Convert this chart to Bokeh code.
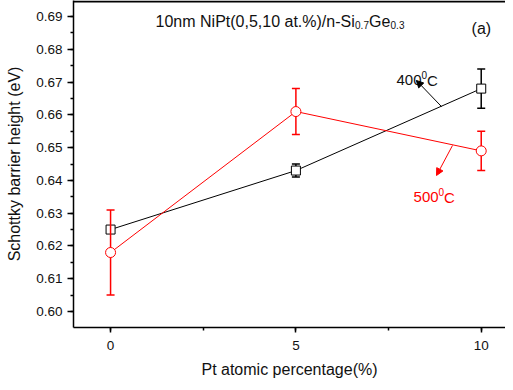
from bokeh.plotting import figure
from bokeh.models import (Range1d, SingleIntervalTicker, NumeralTickFormatter, Label,
                          Arrow, NormalHead, Span)
from bokeh.embed import file_html
from bokeh.resources import INLINE

# ---- data ----
pt = [0, 5, 10]
sbh_400 = [0.625, 0.643, 0.668]
err_400 = [0.001, 0.002, 0.006]
sbh_500 = [0.618, 0.661, 0.649]
err_500 = [0.013, 0.007, 0.006]

FONT = "Liberation Sans"
RED = "#ff0000"
Y0, Y1 = 0.59512, 0.69488

p = figure(width=505, height=382, output_backend="svg", toolbar_location=None,
           x_range=Range1d(-1.0, 10.655), y_range=Range1d(Y0, Y1),
           min_border_left=73, min_border_right=0, min_border_top=0, min_border_bottom=55)
p.background_fill_color = "white"
p.border_fill_color = "white"
p.outline_line_color = None
p.grid.visible = False

p.add_layout(Span(location=Y1 - 0.0003, dimension="width", line_color="black", line_width=2))

# axes
p.xaxis.ticker = SingleIntervalTicker(interval=5, num_minor_ticks=2)
p.yaxis.ticker = SingleIntervalTicker(interval=0.01, num_minor_ticks=2)
p.yaxis.formatter = NumeralTickFormatter(format="0.00")
for ax in (p.xaxis[0], p.yaxis[0]):
    ax.axis_line_width = 1.5
    ax.axis_line_color = "black"
    ax.major_tick_line_width = 1.5
    ax.minor_tick_line_width = 1.5
    ax.major_tick_in = 0
    ax.minor_tick_in = 0
    ax.major_label_text_font = FONT
    ax.major_label_text_font_size = "13.5px"
    ax.major_label_text_color = "#111111"
    ax.axis_label_text_font = FONT
    ax.axis_label_text_font_size = "16px"
    ax.axis_label_text_font_style = "normal"
    ax.axis_label_text_color = "#111111"
p.yaxis.major_tick_out = 6
p.yaxis.minor_tick_out = 3
p.yaxis.major_label_standoff = 5
p.yaxis.axis_label_standoff = 10
p.xaxis.major_tick_out = 5
p.xaxis.minor_tick_out = 3
p.xaxis.major_label_standoff = 8
p.xaxis.axis_label_standoff = 8
p.xaxis.axis_label = "Pt atomic percentage(%)"
p.yaxis.axis_label = "Schottky barrier height (eV)"

# series 400C (black)
lo4 = [v - e for v, e in zip(sbh_400, err_400)]
hi4 = [v + e for v, e in zip(sbh_400, err_400)]
p.segment(x0=pt, y0=lo4, x1=pt, y1=hi4, line_color="black", line_width=1.5)
p.scatter(pt, lo4, marker="dash", size=8, line_color="black", line_width=1.5)
p.scatter(pt, hi4, marker="dash", size=8, line_color="black", line_width=1.5)
p.line(pt, sbh_400, line_color="black", line_width=1)
p.scatter(pt, sbh_400, marker="square", size=9, line_color="black", fill_color="white", line_width=1)

# series 500C (red)
lo5 = [v - e for v, e in zip(sbh_500, err_500)]
hi5 = [v + e for v, e in zip(sbh_500, err_500)]
p.segment(x0=pt, y0=lo5, x1=pt, y1=hi5, line_color=RED, line_width=1.5)
p.scatter(pt, lo5, marker="dash", size=8, line_color=RED, line_width=1.5)
p.scatter(pt, hi5, marker="dash", size=8, line_color=RED, line_width=1.5)
p.line(pt, sbh_500, line_color=RED, line_width=1)
p.scatter(pt, sbh_500, marker="circle", size=10, line_color=RED, fill_color="white", line_width=1)

# title text with subscripts
def lab(x, y, text, size, color="#111111", xo=0, yo=0):
    p.add_layout(Label(x=x, y=y, text=text, x_offset=xo, y_offset=yo,
                       text_font=FONT, text_font_size=size, text_color=color,
                       text_baseline="alphabetic", text_align="left"))

tx, ty = 1.214, 0.68847
lab(tx, ty, "10nm NiPt(0,5,10 at.%)/n-Si", "16px")
lab(tx, ty, "0.7", "10px", xo=199.5, yo=-3)
lab(tx, ty, "Ge", "16px", xo=213.5)
lab(tx, ty, "0.3", "10px", xo=235, yo=-3)

lab(9.74, 0.68619, "(a)", "16px")

# 400C annotation
lab(7.715, 0.67048, "400", "15px")
lab(7.715, 0.67048, "0", "10px", xo=25, yo=5)
lab(7.715, 0.67048, "C", "15px", xo=30.5)
p.add_layout(Arrow(x_start=8.93, y_start=0.6625, x_end=8.25, y_end=0.6705,
                   line_color="black", line_width=1,
                   end=NormalHead(size=7, fill_color="black", line_color="black")))

# 500C annotation
lab(8.174, 0.63478, "500", "15px", color=RED)
lab(8.174, 0.63478, "0", "10px", color=RED, xo=25, yo=5)
lab(8.174, 0.63478, "C", "15px", color=RED, xo=30.5)
p.add_layout(Arrow(x_start=9.225, y_start=0.65065, x_end=8.794, y_end=0.6415,
                   line_color=RED, line_width=1,
                   end=NormalHead(size=7, fill_color=RED, line_color=RED)))

open("out.html", "w").write(file_html(p, INLINE))
